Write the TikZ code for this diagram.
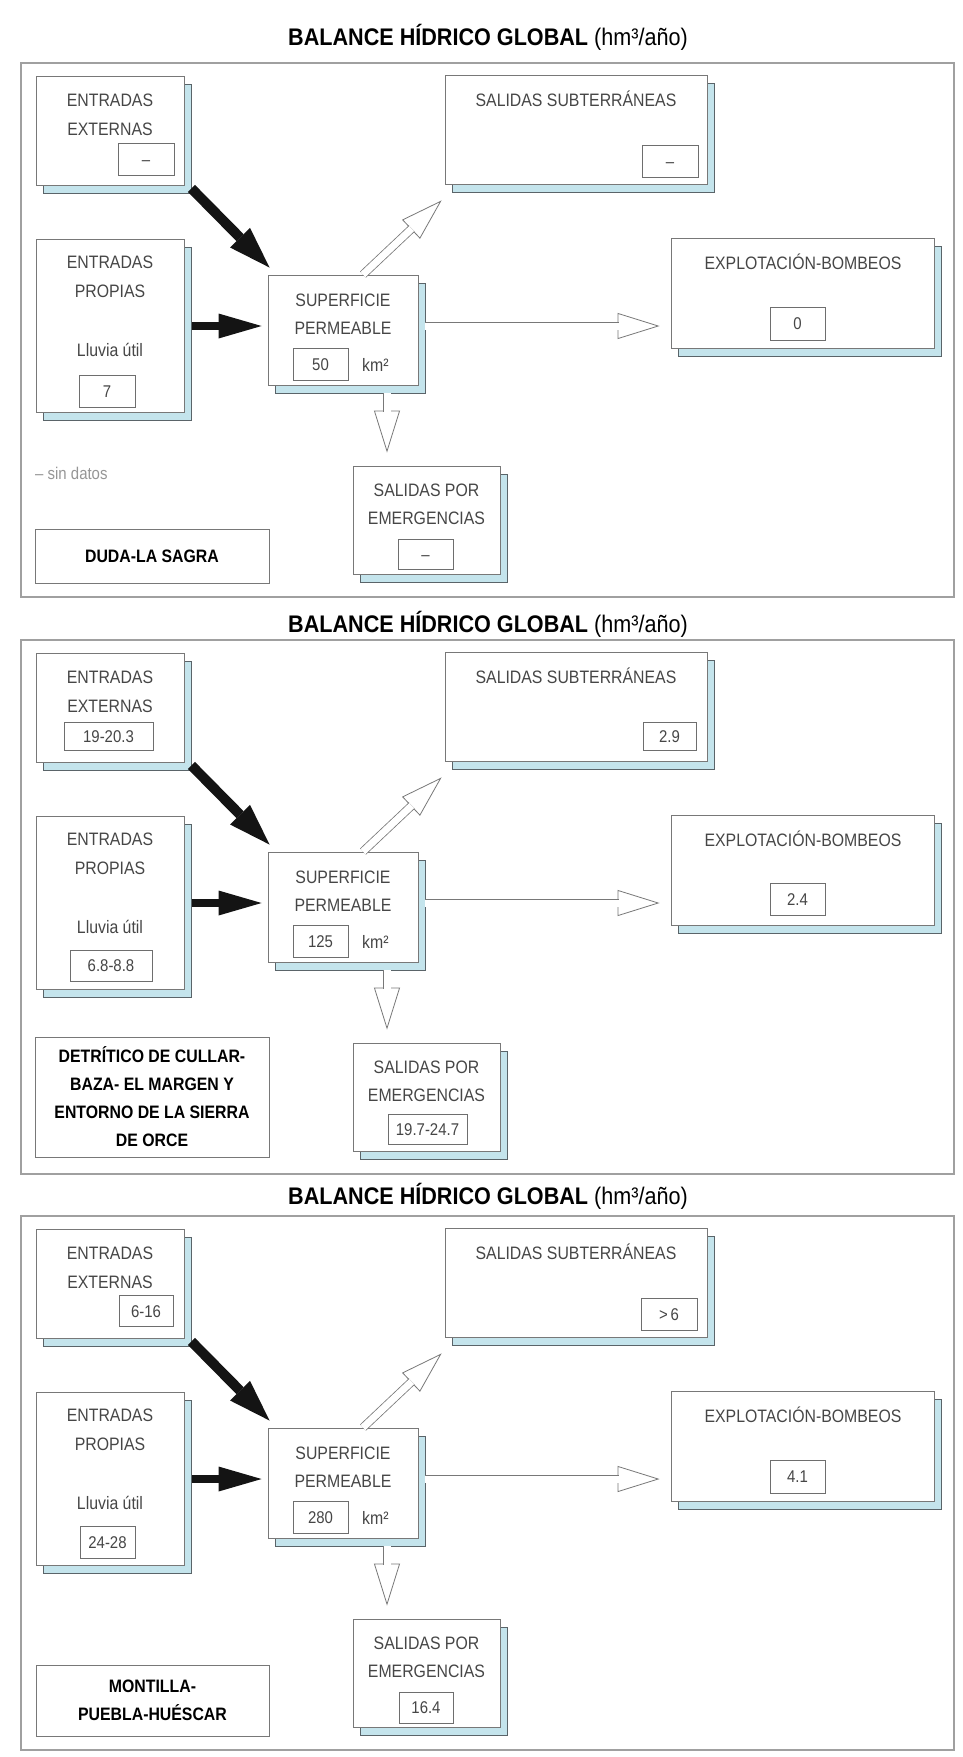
\documentclass[tikz,border=0pt]{standalone}
\usepackage{fontspec}
\newfontfamily\boxfont[FakeStretch=0.88]{Liberation Sans}
\newfontfamily\ttlfont[FakeStretch=0.9]{Liberation Sans}
\usetikzlibrary{arrows.meta,shadows,calc}
\definecolor{shadowblue}{RGB}{196,228,236}
\definecolor{boxgray}{RGB}{120,120,120}
\definecolor{shadowline}{RGB}{90,100,105}
\definecolor{textgray}{RGB}{70,70,70}
\definecolor{valgray}{RGB}{110,110,110}
\definecolor{notegray}{RGB}{150,150,150}
\definecolor{framegray}{RGB}{160,160,160}
\definecolor{hgray}{RGB}{120,120,120}
\definecolor{arrowblack}{RGB}{20,20,20}
\tikzset{
  fbox/.style={draw=boxgray, line width=0.9pt, fill=white, inner sep=0pt,
    copy shadow={shadow xshift=7pt, shadow yshift=-8pt, fill=shadowblue, draw=shadowline, line width=0.9pt}},
  vbox/.style={draw=valgray, line width=0.8pt, fill=white, inner sep=0pt, text=textgray,
    font=\boxfont\fontsize{17}{20}\selectfont, text height=12pt, text depth=0pt},
  lbl/.style={text=textgray, font=\boxfont\fontsize{18}{21}\selectfont, inner sep=0pt, text height=13pt, text depth=0pt},
  note/.style={text=notegray, font=\boxfont\fontsize{17}{20}\selectfont, inner sep=0pt, anchor=west},
  regbox/.style={draw=boxgray, line width=0.9pt, fill=white, inner sep=0pt, align=center,
    font=\boxfont\bfseries\fontsize{18}{28}\selectfont, minimum width=234pt},
  ttl/.style={inner sep=0pt, anchor=base, font=\ttlfont\fontsize{24}{28}\selectfont},
  frm/.style={draw=framegray, line width=1.3pt},
  barrow/.style={draw=arrowblack, line width=8pt, -{Triangle[length=43pt, width=25pt, line width=0pt]}},
  barrowd/.style={draw=arrowblack, line width=10pt, -{Triangle[length=42pt, width=28pt, line width=0pt]}},
  hshaft/.style={draw=hgray, line width=0.8pt, double=white, double distance=7pt, shorten >=41pt},
  hhead/.style={draw=hgray, line width=0.8pt, -{Triangle[length=42pt, width=26pt, fill=white]}},
}
\newcommand\hollow[2]{\draw[hhead] ($(#2)!42.5pt!(#1)$) -- (#2); \draw[hshaft] (#1) -- (#2);}
\newcommand\panelboxes[1]{%
  \draw[frm] (21,63) rectangle (954,597);
  \node[fbox, minimum width=148pt, minimum height=109pt] (#1ee) at (110,130.5) {};
  \node[lbl] (#1eea) at (110,100) {ENTRADAS};
  \node[lbl] (#1eeb) at (110,129) {EXTERNAS};
  \node[fbox, minimum width=262pt, minimum height=109pt] (#1ss) at (576,129.5) {};
  \node[lbl] (#1ssa) at (576,100) {SALIDAS SUBTERRÁNEAS};
  \node[fbox, minimum width=263pt, minimum height=110pt] (#1exp) at (802.5,293) {};
  \node[lbl] (#1expa) at (803,263) {EXPLOTACIÓN-BOMBEOS};
  \node[fbox, minimum width=148pt, minimum height=173pt] (#1ep) at (110,325.5) {};
  \node[lbl] (#1epa) at (110,262) {ENTRADAS};
  \node[lbl] (#1epb) at (110,291) {PROPIAS};
  \node[lbl] (#1epc) at (110,350) {Lluvia útil};
  \node[fbox, minimum width=150pt, minimum height=110pt] (#1sup) at (343,330) {};
  \node[lbl] (#1supa) at (343,300) {SUPERFICIE};
  \node[lbl] (#1supb) at (343,328) {PERMEABLE};
  \node[lbl, anchor=west] (#1km) at (362,365) {km²};
  \node[fbox, minimum width=147pt, minimum height=108pt] (#1spe) at (426.5,520) {};
  \node[lbl] (#1spea) at (426.5,490) {SALIDAS POR};
  \node[lbl] (#1speb) at (426.5,518) {EMERGENCIAS};
}
\newcommand\panelarrows[1]{%
  \draw[barrowd] ($(#1ee.south east)+(7,3)$) -- ($(#1sup.north west)+(2,-7)$);
  \draw[barrow] ($(#1ep.east |- #1sup.west)+(8,-4)$) -- ($(#1sup.west)+(-6,-4)$);
  \coordinate (#1hAs) at ($(#1sup.north)+(20,0)$);
  \coordinate (#1hAe) at ($(#1ss.south west)+(-3,16)$);
  \hollow{#1hAs}{#1hAe}
  \coordinate (#1hBs) at ($(#1sup.east)+(7,-4)$);
  \coordinate (#1hBe) at ($(#1sup.east -| #1exp.west)+(-11,-4)$);
  \hollow{#1hBs}{#1hBe}
  \coordinate (#1hCs) at ($(#1sup.south)+(44,8)$);
  \coordinate (#1hCe) at ($(#1spe.north)+(-39.5,-13)$);
  \hollow{#1hCs}{#1hCe}
}
\begin{document}
\begin{tikzpicture}[x=1pt,y=-1pt]
\useasboundingbox (0,0) rectangle (962,1757);
\fill[white] (0,0) rectangle (962,1757);
% titles
\node[ttl] (ta) at (488,45.5) {{\bfseries BALANCE HÍDRICO GLOBAL }(hm³/año)};
\node[ttl] (tb) at (488,632.5) {{\bfseries BALANCE HÍDRICO GLOBAL }(hm³/año)};
\node[ttl] (tc) at (488,1204) {{\bfseries BALANCE HÍDRICO GLOBAL }(hm³/año)};
% panel 1
\panelboxes{a}
\node[vbox, minimum width=56pt, minimum height=32pt] (aeev) at (146,159) {–};
\node[vbox, minimum width=56pt, minimum height=32pt] (assv) at (670,161) {–};
\node[vbox, minimum width=55pt, minimum height=33pt] (aexpv) at (797.5,323.5) {0};
\node[vbox, minimum width=56pt, minimum height=32pt] (aepv) at (107,391) {7};
\node[vbox, minimum width=55pt, minimum height=32pt] (asupv) at (320.5,364) {50};
\node[vbox, minimum width=55pt, minimum height=30pt] (aspev) at (425.5,554) {–};
\node[note] (asd) at (35,473) {– sin datos};
\node[regbox, minimum height=54pt] (areg) at (152,556) {DUDA-LA SAGRA};
\panelarrows{a}
% panel 2
\begin{scope}[yshift=-577pt]
\panelboxes{b}
\node[vbox, minimum width=89pt, minimum height=28pt] (beev) at (108.5,159) {19-20.3};
\node[vbox, minimum width=53pt, minimum height=28pt] (bssv) at (669.5,159) {2.9};
\node[vbox, minimum width=55pt, minimum height=32pt] (bexpv) at (797.5,322) {2.4};
\node[vbox, minimum width=82pt, minimum height=31pt] (bepv) at (111,388.5) {6.8-8.8};
\node[vbox, minimum width=55pt, minimum height=32pt] (bsupv) at (320.5,364) {125};
\node[vbox, minimum width=79pt, minimum height=30pt] (bspev) at (427.5,552) {19.7-24.7};
\node[regbox, minimum height=120pt] (breg) at (152,520) {DETRÍTICO DE CULLAR-\\BAZA- EL MARGEN Y\\ENTORNO DE LA SIERRA\\DE ORCE};
\panelarrows{b}
\end{scope}
% panel 3
\begin{scope}[yshift=-1153pt]
\panelboxes{c}
\node[vbox, minimum width=54pt, minimum height=31pt] (ceev) at (146,158) {6-16};
\node[vbox, minimum width=56pt, minimum height=32pt] (cssv) at (669,161) {>\,6};
\node[vbox, minimum width=55pt, minimum height=33pt] (cexpv) at (797.5,323.5) {4.1};
\node[vbox, minimum width=55pt, minimum height=32pt] (cepv) at (107.5,389) {24-28};
\node[vbox, minimum width=55pt, minimum height=32pt] (csupv) at (320.5,364) {280};
\node[vbox, minimum width=54pt, minimum height=31pt] (cspev) at (426,554.5) {16.4};
\node[regbox, minimum width=233pt, minimum height=71pt] (creg) at (152.5,547.5) {MONTILLA-\\PUEBLA-HUÉSCAR};
\panelarrows{c}
\end{scope}
\end{tikzpicture}
\end{document}
